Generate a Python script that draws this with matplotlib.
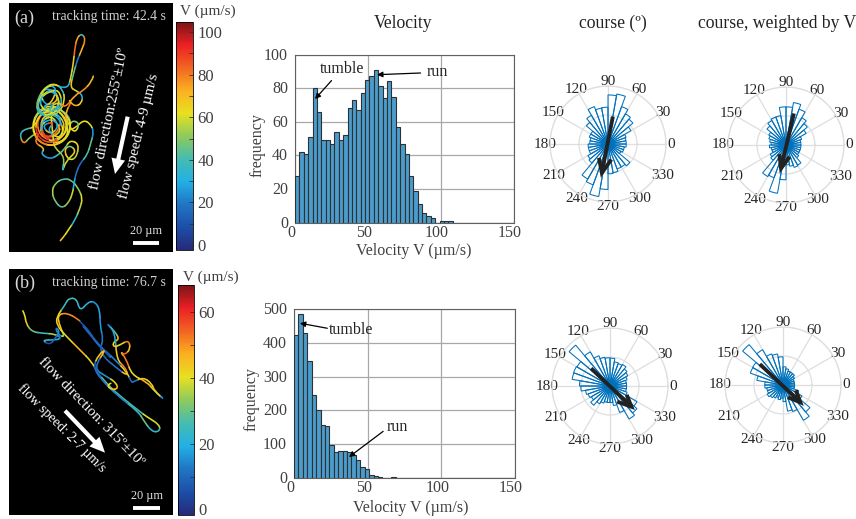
"""Two bacterial tracks with velocity histograms and course rose plots."""

import matplotlib

matplotlib.use("Agg")
import matplotlib.pyplot as plt
import numpy as np
from matplotlib.cm import ScalarMappable
from matplotlib.collections import PathCollection
from matplotlib.colors import LinearSegmentedColormap, Normalize
from matplotlib.path import Path
from matplotlib.transforms import ScaledTranslation

W, H = 856, 519

# tracks: (x, y, V), x/y in 1/3 pixel units
track_a = [
    (172, 732, 66), (190, 712, 68), (205, 690, 62), (225, 660, 35), (240, 625, 55), (248, 595, 60),
    (235, 565, 52), (215, 540, 45), (190, 535, 42), (165, 550, 50), (155, 575, 55), (165, 605, 48),
    (185, 625, 44), (205, 610, 52), (218, 580, 58), (222, 550, 30), (228, 520, 18), (240, 490, 16),
    (262, 465, 40), (272, 430, 45), (282, 395, 25), (270, 370, 60), (250, 360, 62), (225, 385, 66),
    (205, 390, 56), (215, 360, 50), (240, 370, 48), (225, 400, 62), (205, 375, 70), (195, 335, 75),
    (155, 315, 62), (115, 330, 55), (95, 375, 60), (108, 420, 72), (150, 440, 80), (195, 420, 62),
    (215, 375, 58), (200, 335, 30), (150, 325, 66), (110, 355, 85), (118, 410, 78), (170, 425, 40),
    (200, 375, 70), (165, 335, 60), (120, 365, 30), (135, 420, 85), (190, 395, 65), (155, 350, 30),
    (112, 385, 70), (150, 428, 88), (195, 405, 62), (175, 345, 30), (125, 345, 66), (122, 405, 90),
    (175, 435, 60), (210, 400, 64), (185, 335, 55), (135, 320, 30), (100, 385, 66), (80, 385, 40),
    (58, 400, 35), (70, 435, 78), (90, 410, 50), (120, 395, 85), (102, 428, 80), (135, 445, 70),
    (122, 462, 30), (150, 478, 25), (175, 465, 38), (195, 445, 45), (210, 420, 60), (238, 432, 64),
    (228, 476, 55), (205, 480, 62), (192, 450, 70), (210, 435, 48), (230, 455, 66), (198, 482, 58),
    (185, 522, 35), (195, 470, 50), (165, 445, 55), (160, 425, 60),
    (150, 313, 62), (188, 330, 58), (214, 368, 62), (204, 414, 60), (162, 440, 66), (117, 427, 80),
    (95, 382, 62), (117, 330, 56), (162, 323, 58), (201, 355, 64), (195, 408, 66), (150, 433, 85),
    (108, 407, 92), (108, 355, 66), (143, 330, 62), (186, 349, 30), (173, 401, 80), (130, 414, 88),
    (120, 368, 35), (155, 345, 62), (178, 380, 35), (150, 405, 70), (125, 375, 28), (165, 365, 85),
    (140, 392, 30), (180, 418, 66), (205, 385, 60),
    (195, 340, 72), (215, 305, 80),
    (205, 300, 66), (225, 320, 75), (245, 310, 65), (248, 285, 30), (228, 272, 58), (210, 262, 70),
    (222, 215, 45), (232, 180, 20), (245, 150, 72), (257, 118, 78), (245, 100, 38), (230, 115, 75),
    (224, 150, 82), (220, 190, 66), (212, 235, 58), (205, 262, 30), (180, 262, 28), (160, 250, 62),
    (135, 262, 40), (118, 295, 30), (112, 330, 38), (140, 348, 62), (178, 330, 30), (175, 285, 65),
    (140, 262, 30), (120, 285, 58), (140, 320, 28), (178, 300, 68), (158, 262, 34), (125, 290, 62),
    (118, 305, 38), (130, 268, 50), (165, 250, 66), (188, 268, 40), (195, 300, 62), (178, 340, 55),
    (135, 350, 35), (110, 322, 42), (125, 282, 60), (158, 272, 35), (180, 300, 58), (165, 335, 30),
    (128, 330, 62), (118, 298, 30), (145, 275, 55), (178, 268, 62), (188, 320, 38), (150, 345, 60),
    (115, 345, 35), (108, 305, 48), (138, 255, 60), (172, 262, 30), (155, 310, 66), (125, 320, 28),
    (158, 335, 55),
    (145, 325, 35), (175, 305, 66), (195, 325, 80), (225, 285, 74), (250, 272, 78), (275, 245, 70),
    (285, 212, 60),
]
track_b = [
    (62, 140, 5), (75, 165, 40), (78, 190, 44), (95, 215, 30), (130, 220, 25), (165, 222, 35),
    (185, 235, 15), (165, 240, 20), (125, 240, 24), (150, 255, 5), (165, 235, 10), (180, 215, 16),
    (165, 200, 12), (175, 225, 14), (195, 232, 34), (180, 200, 44), (172, 165, 46), (200, 158, 50),
    (235, 178, 52), (245, 190, 6), (260, 205, 8), (275, 225, 7), (290, 250, 9), (305, 265, 7),
    (320, 280, 8), (335, 295, 10), (320, 280, 6), (290, 245, 8), (260, 210, 10), (245, 192, 7),
    (262, 215, 8), (300, 260, 10), (320, 275, 8), (345, 300, 14),
    (380, 335, 42), (395, 368, 10), (400, 365, 12), (430, 352, 44), (455, 370, 42), (465, 395, 50),
    (495, 420, 14), (465, 395, 38), (440, 365, 46), (395, 345, 40), (378, 295, 52), (360, 275, 46),
    (375, 285, 54), (392, 265, 44), (385, 240, 52), (360, 255, 42), (340, 262, 44), (340, 245, 40),
    (358, 238, 46), (345, 215, 30), (318, 188, 12), (345, 215, 18), (350, 300, 44), (375, 320, 52),
    (385, 350, 44), (345, 320, 12), (310, 290, 10), (300, 265, 8), (310, 240, 12), (300, 195, 16),
    (300, 150, 18), (285, 125, 16), (265, 125, 20), (240, 155, 22), (230, 115, 24), (205, 115, 26),
    (195, 135, 24), (170, 170, 42), (170, 195, 44), (195, 225, 40), (240, 270, 46), (275, 305, 42),
    (290, 335, 8), (320, 370, 30), (350, 400, 28), (420, 455, 26), (440, 470, 40), (480, 495, 38),
    (478, 515, 24), (455, 515, 22), (430, 480, 30), (415, 455, 24), (350, 405, 14), (300, 355, 12),
    (280, 320, 10), (295, 285, 44), (320, 265, 46), (280, 325, 12), (320, 350, 16), (345, 365, 42),
    (355, 385, 46), (335, 390, 44), (320, 375, 40), (345, 365, 12),
]

colorbar_a_ticks = np.arange(0, 101, 10)
colorbar_b_ticks = np.arange(0, 61, 10)

velocity_a = [28, 42, 41, 51, 80, 66, 49, 49, 47, 54, 49, 52, 68, 73, 67, 77, 85, 87, 91, 81, 74, 84, 75, 57, 47,
              41, 28, 19, 11, 6, 4, 3, 0, 1, 1, 1, 0, 0, 0, 0, 0, 0, 0, 0, 0, 0, 0, 0, 0, 0]
velocity_b = [422, 484, 430, 347, 245, 200, 158, 153, 98, 77, 79, 81, 78, 67, 54, 33, 27, 10, 7, 4, 1, 1, 3, 1, 1,
              1, 0, 0, 0, 0, 0, 0, 0, 0, 0, 0, 0, 0, 0, 0, 0, 0, 0, 0, 0, 0, 0, 0, 0, 0]
velocity_edges = np.arange(0, 150, 3)

# rose bins of 10 degrees, 0-10 first
rose_edges = np.arange(0, 360, 10)
rose_a = [55, 55, 58, 80, 98, 105, 120, 153, 148, 111, 110, 120, 100, 85, 60, 60, 55, 55,
          60, 60, 60, 70, 75, 122, 131, 161, 137, 90, 88, 80, 80, 86, 45, 50, 50, 55]
rose_a_w = [45, 45, 50, 70, 84, 95, 115, 130, 115, 115, 90, 90, 85, 75, 60, 55, 50, 45,
            50, 45, 45, 55, 60, 110, 105, 148, 105, 60, 65, 72, 70, 50, 45, 45, 45, 45]
rose_b = [50, 50, 55, 62, 67, 75, 72, 74, 84, 85, 88, 97, 119, 161, 115, 117, 116, 92,
          88, 75, 70, 65, 76, 62, 55, 50, 50, 50, 60, 85, 115, 106, 94, 55, 50, 50]
rose_b_w = [35, 35, 35, 40, 45, 45, 45, 50, 55, 85, 95, 100, 123, 159, 106, 105, 80, 55,
            55, 50, 50, 55, 50, 45, 40, 45, 40, 50, 80, 85, 123, 106, 66, 50, 35, 35]

# mean course arrows: tail, tip and the two barbs as (angle deg, radius)
arrow_a = [(80, 84), (258, 89), (237, 50), (282, 48)]
arrow_a_w = [(76, 98), (258, 72), (234, 34), (287, 37)]
arrow_b = [(137, 78), (316, 90), (295, 52), (332, 57)]
arrow_b_w = [(138, 94), (315, 74), (292, 40), (338, 42)]
course_ticks = np.arange(0, 360, 30)

plt.rcParams["font.family"] = ["Liberation Serif", "DejaVu Serif"]

track_cmap = LinearSegmentedColormap.from_list(
    "track",
    ["#262a7c", "#1c4fa8", "#2076c4", "#22b0e6", "#45bcae", "#8fca5c", "#e8e020", "#fbb020", "#f26522", "#ec2024", "#7c1416"],
)


def px_axes(fig, left, top, right, bottom, **kw):
    return fig.add_axes([left / W, 1 - bottom / H, (right - left) / W, (bottom - top) / H], **kw)


def curve_paths(xy):
    # one quadratic piece per waypoint, running between midpoints, so each can get its own colour
    mids = (xy[:-1] + xy[1:]) / 2
    paths = []
    for i in range(1, len(xy) - 1):
        paths.append(Path([mids[i - 1], xy[i], mids[i]], [Path.MOVETO, Path.CURVE3, Path.CURVE3]))
    return paths


def draw_panel(fig, box, track, vlim, label, time_text, y_shift=0):
    ax = px_axes(fig, *box)
    ax.set_facecolor("black")
    ax.set_xlim(box[0] * 3, box[2] * 3)
    ax.set_ylim(box[3] * 3 - y_shift, box[1] * 3 - y_shift)
    ax.set_xticks([])
    ax.set_yticks([])
    for s in ax.spines.values():
        s.set_visible(False)
    pts = np.array(track, dtype=float)
    norm = Normalize(*vlim)
    pc = PathCollection(curve_paths(pts[:, :2]), facecolors="none", edgecolors=track_cmap(norm(pts[1:-1, 2])),
                        linewidths=1.15, capstyle="round", transform=ax.transData)
    ax.add_collection(pc, autolim=False)
    ax.text(0.03, 0.975, label, transform=ax.transAxes, color="#d8d8d8", fontsize=13, ha="left", va="top")
    ax.text(0.955, 0.97, time_text, transform=ax.transAxes, color="#d0d0d0", fontsize=9.9, ha="right", va="top")
    return ax


def draw_colorbar(fig, box, vlim, ticks, title_x, title_y):
    cax = px_axes(fig, *box)
    cb = fig.colorbar(ScalarMappable(Normalize(*vlim), track_cmap), cax=cax)
    cb.set_ticks(ticks)
    cb.set_ticklabels([str(t) if t % 20 == 0 else "" for t in ticks])
    cax.tick_params(direction="in", length=3, width=0.6, labelsize=12, labelcolor="#404040", color="#333333", pad=3)
    cb.outline.set_linewidth(0.6)
    fig.text(title_x / W, 1 - title_y / H, "V (µm/s)", fontsize=11, color="#404040", ha="left", va="center")


def draw_hist(fig, box, counts, ymax, yticks, ylabel_pos, xlabel_pos):
    ax = px_axes(fig, *box)
    ax.bar(velocity_edges, counts, width=3, align="edge", color="#4a9ccd", edgecolor="#303030", lw=0.8, zorder=3)
    ax.set_xlim(0, 150)
    ax.set_ylim(0, ymax)
    ax.set_xticks([0, 50, 100, 150])
    ax.set_yticks(yticks)
    ax.grid(color="#a8a8a8", lw=0.9, zorder=0)
    ax.set_axisbelow(True)
    ax.tick_params(length=0, labelsize=11.5, labelcolor="#404040")
    ax.tick_params(axis="x", pad=1.5)
    ax.tick_params(axis="y", pad=5)
    for s in ax.spines.values():
        s.set_color("#606060")
        s.set_linewidth(0.8)
    # labels sit a little left of and above their ticks in the original
    for lab in ax.get_xticklabels():
        lab.set_transform(lab.get_transform() + ScaledTranslation(-4 / 100, 0, fig.dpi_scale_trans))
    for lab in ax.get_yticklabels():
        lab.set_transform(lab.get_transform() + ScaledTranslation(0, 1 / 100, fig.dpi_scale_trans))
    ax.set_xlabel("Velocity V (µm/s)", fontsize=11.5, color="#404040")
    ax.set_ylabel("frequency", fontsize=11.5, color="#404040")
    ax.xaxis.set_label_coords(*xlabel_pos)
    ax.yaxis.set_label_coords(*ylabel_pos)
    return ax


def note(ax, text, text_xy, start, tip, ha="center"):
    ax.annotate("", xy=tip, xytext=start, zorder=5,
                arrowprops=dict(arrowstyle="-|>", color="black", lw=0.9, shrinkA=0, shrinkB=0, mutation_scale=8))
    ax.text(*text_xy, text, fontsize=11.5, color="#222222", ha=ha, va="center", zorder=6)


def draw_rose(fig, cx, cy, values, arrow, radius=58):
    ax = px_axes(fig, cx - radius, cy - radius, cx + radius, cy + radius, projection="polar")
    ax.bar(np.deg2rad(rose_edges), values, width=np.deg2rad(10), align="edge", fill=False,
           edgecolor="#0072bd", lw=0.75, zorder=3)
    ax.set_ylim(0, 175)
    ax.set_yticks([87.5, 175])
    ax.set_yticklabels([])
    ax.set_xticks(np.deg2rad(course_ticks))
    ax.set_xticklabels([str(t) for t in course_ticks])
    ax.grid(color="#dedede", lw=0.9)
    ax.set_axisbelow(True)
    ax.spines["polar"].set_color("#dedede")
    ax.spines["polar"].set_linewidth(0.9)
    ax.tick_params(axis="x", labelsize=11, labelcolor="#262626", pad=-3.5, length=0)
    ang = np.deg2rad([a for a, _ in arrow])
    rad = [r for _, r in arrow]
    kw = dict(color="#222222", lw=2.8, zorder=5, solid_capstyle="butt", solid_joinstyle="miter")
    ax.plot(ang[:2], rad[:2], **kw)
    ax.plot([ang[2], ang[1], ang[3]], [rad[2], rad[1], rad[3]], **kw)
    return ax


def white_arrow(ax, start, tip):
    ax.annotate("", xy=tip, xytext=start,
                arrowprops=dict(facecolor="white", edgecolor="none", width=3.0, headwidth=10, headlength=11, shrink=0))


def scale_bar(ax, x0, x1, y):
    ax.plot([x0, x1], [y, y], color="white", lw=2.8, solid_capstyle="butt")
    ax.text((x0 + x1) / 2, y - 38, "20 µm", color="#e0e0e0", fontsize=8.8, ha="center", va="center")


def main():
    fig = plt.figure(figsize=(W / 100, H / 100), dpi=100)

    # left panels
    pa = draw_panel(fig, (9, 3, 173, 252), track_a, (-2.3, 104.7), "(a)", "tracking time: 42.4 s")
    draw_colorbar(fig, (176, 22, 193, 250), (-2.3, 104.7), colorbar_a_ticks, 180, 11)
    white_arrow(pa, (383, 350), (345, 522))
    pa.text(328, 357, "flow direction:255º±10º", color="white", fontsize=10.8, rotation=78,
            ha="center", va="center", rotation_mode="anchor")
    pa.text(417, 408, "flow speed: 4-9 µm/s", color="white", fontsize=10.9, rotation=76,
            ha="center", va="center", rotation_mode="anchor")
    scale_bar(pa, 398, 478, 730)

    pb = draw_panel(fig, (9, 269, 173, 515), track_b, (-1.7, 68.3), "(b)", "tracking time: 76.7 s", y_shift=780)
    draw_colorbar(fig, (178, 285, 194, 515), (-1.7, 68.3), colorbar_b_ticks, 183, 277)
    white_arrow(pb, (195, 452), (315, 578))
    pb.text(272, 455, "flow direction: 315º±10º", color="white", fontsize=10.6, rotation=-46,
            ha="center", va="center", rotation_mode="anchor")
    pb.text(185, 503, "flow speed: 2-7 µm/s", color="white", fontsize=10.1, rotation=-45,
            ha="center", va="center", rotation_mode="anchor")
    scale_bar(pb, 400, 480, 745)

    # histograms
    ha = draw_hist(fig, (295, 54.5, 514, 222.7), velocity_a, 100, [0, 20, 40, 60, 80, 100],
                   (-0.135, 0.46), (0.542, -0.122))
    note(ha, "tumble", (32, 91.5), (25, 84.5), (13.7, 73.5))
    note(ha, "run", (97.5, 89.5), (86, 89), (56.2, 88))
    hb = draw_hist(fig, (294, 309, 515, 478), velocity_b, 500, [0, 100, 200, 300, 400, 500],
                   (-0.154, 0.47), (0.53, -0.13))
    note(hb, "tumble", (23.5, 438), (22.6, 443), (4, 458), ha="left")
    note(hb, "run", (70, 150), (60.5, 138), (37.3, 62))

    # rose plots
    draw_rose(fig, 608, 144, rose_a, arrow_a)
    draw_rose(fig, 786, 145, rose_a_w, arrow_a_w)
    draw_rose(fig, 610, 386, rose_b, arrow_b)
    draw_rose(fig, 783, 385, rose_b_w, arrow_b_w)

    # column titles
    fig.text(403 / W, 1 - 23 / H, "Velocity", fontsize=12.7, color="#222222", ha="center", va="center")
    fig.text(613 / W, 1 - 23 / H, "course (º)", fontsize=12.7, color="#222222", ha="center", va="center")
    fig.text(777 / W, 1 - 23 / H, "course, weighted by V", fontsize=12.7, color="#222222", ha="center", va="center")

    fig.savefig("out.png", dpi=100)


if __name__ == "__main__":
    main()
